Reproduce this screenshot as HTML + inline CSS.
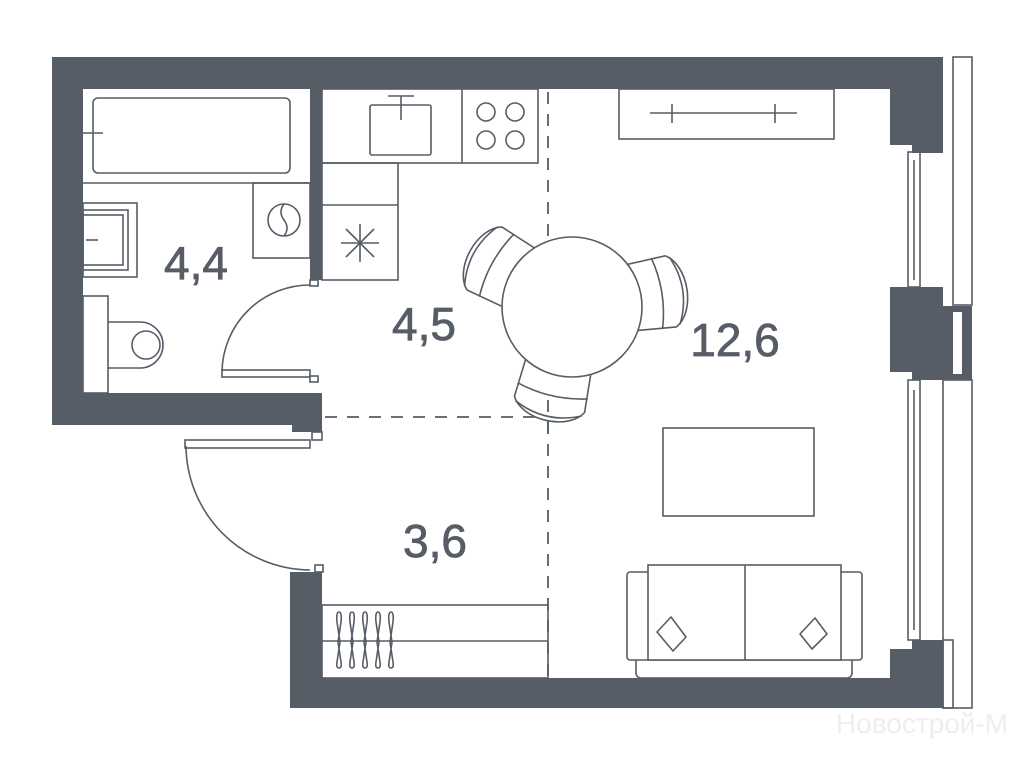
<!DOCTYPE html>
<html><head><meta charset="utf-8"><style>
html,body{margin:0;padding:0;background:#fff;}
svg{display:block}
text{font-family:"Liberation Sans",sans-serif;fill:#575d66;}
</style></head><body>
<svg width="1024" height="768" viewBox="0 0 1024 768" xmlns="http://www.w3.org/2000/svg">
<g fill="#575d66">
<rect x="52" y="57" width="891" height="32"/>
<rect x="52" y="57" width="31" height="368"/>
<rect x="52" y="393" width="270" height="32"/>
<rect x="292" y="393" width="30" height="39"/>
<rect x="310" y="88" width="12" height="192"/>
<rect x="290" y="572" width="32" height="136"/>
<rect x="290" y="678" width="653" height="30"/>
<rect x="890" y="649" width="53" height="59"/>
<rect x="912" y="640" width="31" height="20"/>
<rect x="890" y="57" width="53" height="88"/>
<rect x="912" y="57" width="31" height="96"/>
<rect x="890" y="287" width="53" height="85"/>
<rect x="912" y="287" width="31" height="93"/>
<rect x="943" y="306" width="29" height="74"/>
</g>
<rect x="953" y="312" width="9" height="62" fill="#fff"/>
<g fill="none" stroke="#575d66" stroke-width="1.6">
<rect x="953" y="57" width="19" height="248"/>
<rect x="943" y="380" width="29" height="328"/>
<rect x="943" y="640" width="10" height="68"/>
<rect x="908" y="152" width="12" height="135"/>
<line x1="914" y1="160" x2="914" y2="280"/>
<rect x="908" y="380" width="12" height="260"/>
<line x1="914" y1="390" x2="914" y2="630"/>
<rect x="93" y="98" width="197" height="75" rx="5"/>
<line x1="83" y1="133" x2="103" y2="133"/>
<line x1="83" y1="183" x2="310" y2="183"/>
<rect x="253" y="183" width="57" height="75"/>
<circle cx="284" cy="220" r="16"/>
<path d="M284 204 q-6 8 0 16 q6 8 0 16"/>
<rect x="83" y="203" width="54" height="74"/>
<rect x="83" y="210" width="45" height="60"/>
<rect x="83" y="215" width="40" height="50"/>
<line x1="86" y1="240" x2="98" y2="240"/>
<rect x="83" y="296" width="25" height="97"/>
<path d="M108 322 H140 a23 23 0 0 1 0 46 H108"/>
<circle cx="146" cy="345" r="14"/>
<rect x="222" y="370" width="88" height="7"/>
<path d="M222 371 A88 88 0 0 1 310 285"/>
<rect x="310" y="280" width="8" height="6"/>
<rect x="310" y="376" width="8" height="6"/>
<rect x="185" y="440" width="125" height="8"/>
<path d="M186 446 A125 125 0 0 0 310 570"/>
<rect x="312" y="432" width="10" height="8"/>
<rect x="315" y="565" width="8" height="7"/>
<rect x="322" y="89" width="216" height="74"/>
<line x1="462" y1="89" x2="462" y2="163"/>
<rect x="370" y="105" width="61" height="50" rx="2"/>
<line x1="401" y1="96" x2="401" y2="120"/>
<line x1="388" y1="96" x2="414" y2="96"/>
<circle cx="486" cy="112" r="9"/><circle cx="515" cy="112" r="9"/>
<circle cx="486" cy="140" r="9"/><circle cx="515" cy="140" r="9"/>
<rect x="322" y="163" width="76" height="117"/>
<line x1="322" y1="205" x2="398" y2="205"/>
<g transform="translate(360,243)">
<line x1="-19" y1="0" x2="19" y2="0"/><line x1="0" y1="-19" x2="0" y2="19"/>
<line x1="-14" y1="-14" x2="14" y2="14"/><line x1="-14" y1="14" x2="14" y2="-14"/>
</g>
<rect x="619" y="89" width="215" height="50"/>
<line x1="650" y1="113" x2="797" y2="113"/>
<line x1="672" y1="104" x2="672" y2="123"/>
<line x1="775" y1="104" x2="775" y2="123"/>
<rect x="663" y="428" width="151" height="88"/>
<rect x="636" y="650" width="216" height="28" rx="5"/>
<rect x="627" y="572" width="235" height="88" rx="3" fill="#fff"/>
<rect x="648" y="565" width="193" height="95" fill="#fff"/>
<line x1="745" y1="565" x2="745" y2="660"/>
<path d="M657 632 l14 -15 l15 20 l-13 14 z" stroke-linejoin="round"/>
<path d="M800 634 l15 -16 l12 16 l-15 15 z" stroke-linejoin="round"/>
<rect x="322" y="605" width="226" height="73"/>
<line x1="322" y1="641" x2="548" y2="641"/>
<g>
<path d="M339 612 q-3 0 -2 10 l3 20 l-3 20 q-1 6 2 6 q3 0 2 -6 l-3 -20 l3 -20 q1 -10 -2 -10"/>
<path d="M352 612 q-3 0 -2 10 l3 20 l-3 20 q-1 6 2 6 q3 0 2 -6 l-3 -20 l3 -20 q1 -10 -2 -10"/>
<path d="M365 612 q-3 0 -2 10 l3 20 l-3 20 q-1 6 2 6 q3 0 2 -6 l-3 -20 l3 -20 q1 -10 -2 -10"/>
<path d="M378 612 q-3 0 -2 10 l3 20 l-3 20 q-1 6 2 6 q3 0 2 -6 l-3 -20 l3 -20 q1 -10 -2 -10"/>
<path d="M391 612 q-3 0 -2 10 l3 20 l-3 20 q-1 6 2 6 q3 0 2 -6 l-3 -20 l3 -20 q1 -10 -2 -10"/>
</g>
</g>
<g stroke="#575d66" stroke-width="1.8" stroke-dasharray="12 10" fill="none">
<line x1="548" y1="92" x2="548" y2="678"/>
<line x1="325" y1="417" x2="548" y2="417"/>
</g>
<g fill="#fff" stroke="#575d66" stroke-width="1.6">
<g transform="translate(572,307) rotate(-61)">
<path d="M-33 -55 L-36 -100 A38 24 0 0 1 36 -100 L33 -55 Z"/>
<path d="M-36 -86 Q0 -96 36 -86" fill="none"/>
<path d="M-34 -104 Q0 -120 34 -104" fill="none"/>
</g>
<g transform="translate(572,307) rotate(81)">
<path d="M-33 -55 L-36 -100 A38 24 0 0 1 36 -100 L33 -55 Z"/>
<path d="M-36 -86 Q0 -96 36 -86" fill="none"/>
<path d="M-34 -104 Q0 -120 34 -104" fill="none"/>
</g>
<g transform="translate(572,307) rotate(193)">
<path d="M-33 -55 L-36 -100 A38 24 0 0 1 36 -100 L33 -55 Z"/>
<path d="M-36 -86 Q0 -96 36 -86" fill="none"/>
<path d="M-34 -104 Q0 -120 34 -104" fill="none"/>
</g>
<circle cx="572" cy="307" r="70"/>
</g>
<line x1="548" y1="400" x2="548" y2="432" stroke="#575d66" stroke-width="1.8" stroke-dasharray="12 8"/>
<g stroke="#575d66" stroke-width="0.8">
<text x="196" y="279" font-size="46" text-anchor="middle">4,4</text>
<text x="424" y="340" font-size="46" text-anchor="middle">4,5</text>
<text x="735" y="356" font-size="46" text-anchor="middle">12,6</text>
<text x="435" y="557" font-size="46" text-anchor="middle">3,6</text>
</g>
<text x="922" y="733" font-size="28" text-anchor="middle" style="fill:#eceef0">Новострой-М</text>
</svg>
</body></html>
